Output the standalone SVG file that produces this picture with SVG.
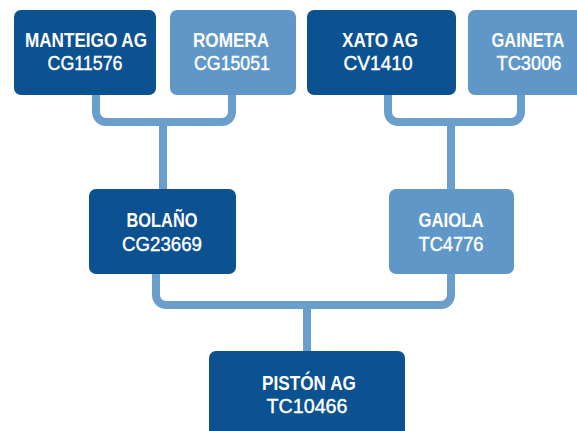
<svg xmlns="http://www.w3.org/2000/svg" width="577" height="431" viewBox="0 0 577 431">
<style>
.dark{fill:#0c5190}
.light{fill:#5f98c8}
.conn{fill:none;stroke:#6b9fcb;stroke-width:8;stroke-linejoin:round}
text{font-family:"Liberation Sans",Arial,sans-serif;fill:#ffffff;text-anchor:middle;font-size:19.5px}
.t{font-weight:bold}
.c{font-weight:normal;stroke:#ffffff;stroke-width:0.4}
</style>
<rect width="577" height="431" fill="#ffffff"/>
<g id="connectors">
<path class="conn" d="M96 95 V112 A10 10 0 0 0 106 122 H222 A10 10 0 0 0 232 112 V95"/>
<path class="conn" d="M163 122 V189"/>
<path class="conn" d="M388 95 V112 A10 10 0 0 0 398 122 H511 A10 10 0 0 0 521 112 V95"/>
<path class="conn" d="M451 122 V189"/>
<path class="conn" d="M156 274 V295 A10 10 0 0 0 166 305 H441 A10 10 0 0 0 451 295 V274"/>
<path class="conn" d="M307 305 V351"/>
</g>
<g id="manteigo">
<rect class="dark" x="14" y="10" width="142" height="85" rx="7"/>
<text class="t" x="86" y="47" textLength="122" lengthAdjust="spacingAndGlyphs">MANTEIGO AG</text>
<text class="c" x="85" y="70" textLength="75" lengthAdjust="spacingAndGlyphs">CG11576</text>
</g>
<g id="romera">
<rect class="light" x="170" y="10" width="126" height="85" rx="7"/>
<text class="t" x="231" y="47" textLength="76" lengthAdjust="spacingAndGlyphs">ROMERA</text>
<text class="c" x="232" y="70" textLength="76" lengthAdjust="spacingAndGlyphs">CG15051</text>
</g>
<g id="xato">
<rect class="dark" x="307" y="10" width="149" height="85" rx="7"/>
<text class="t" x="380" y="47" textLength="76" lengthAdjust="spacingAndGlyphs">XATO AG</text>
<text class="c" x="378" y="70" textLength="69" lengthAdjust="spacingAndGlyphs">CV1410</text>
</g>
<g id="gaineta">
<path class="light" d="M475 10 H577 V95 H475 A7 7 0 0 1 468 88 V17 A7 7 0 0 1 475 10 Z"/>
<text class="t" x="528" y="47" font-size="18.5" textLength="73" lengthAdjust="spacingAndGlyphs">GAINETA</text>
<text class="c" x="529" y="70" textLength="65" lengthAdjust="spacingAndGlyphs">TC3006</text>
</g>
<g id="bolano">
<rect class="dark" x="89" y="189" width="147" height="85" rx="7"/>
<text class="t" x="162" y="227" textLength="71" lengthAdjust="spacingAndGlyphs">BOLAÑO</text>
<text class="c" x="162" y="251" textLength="80" lengthAdjust="spacingAndGlyphs">CG23669</text>
</g>
<g id="gaiola">
<rect class="light" x="389" y="189" width="125" height="85" rx="7"/>
<text class="t" x="451" y="227" textLength="65" lengthAdjust="spacingAndGlyphs">GAIOLA</text>
<text class="c" x="451" y="251" textLength="65" lengthAdjust="spacingAndGlyphs">TC4776</text>
</g>
<g id="piston">
<path class="dark" d="M216 351 H398 A7 7 0 0 1 405 358 V431 H209 V358 A7 7 0 0 1 216 351 Z"/>
<text class="t" x="309" y="390" textLength="94" lengthAdjust="spacingAndGlyphs">PISTÓN AG</text>
<text class="c" x="307" y="413" textLength="81" lengthAdjust="spacingAndGlyphs">TC10466</text>
</g>
</svg>
